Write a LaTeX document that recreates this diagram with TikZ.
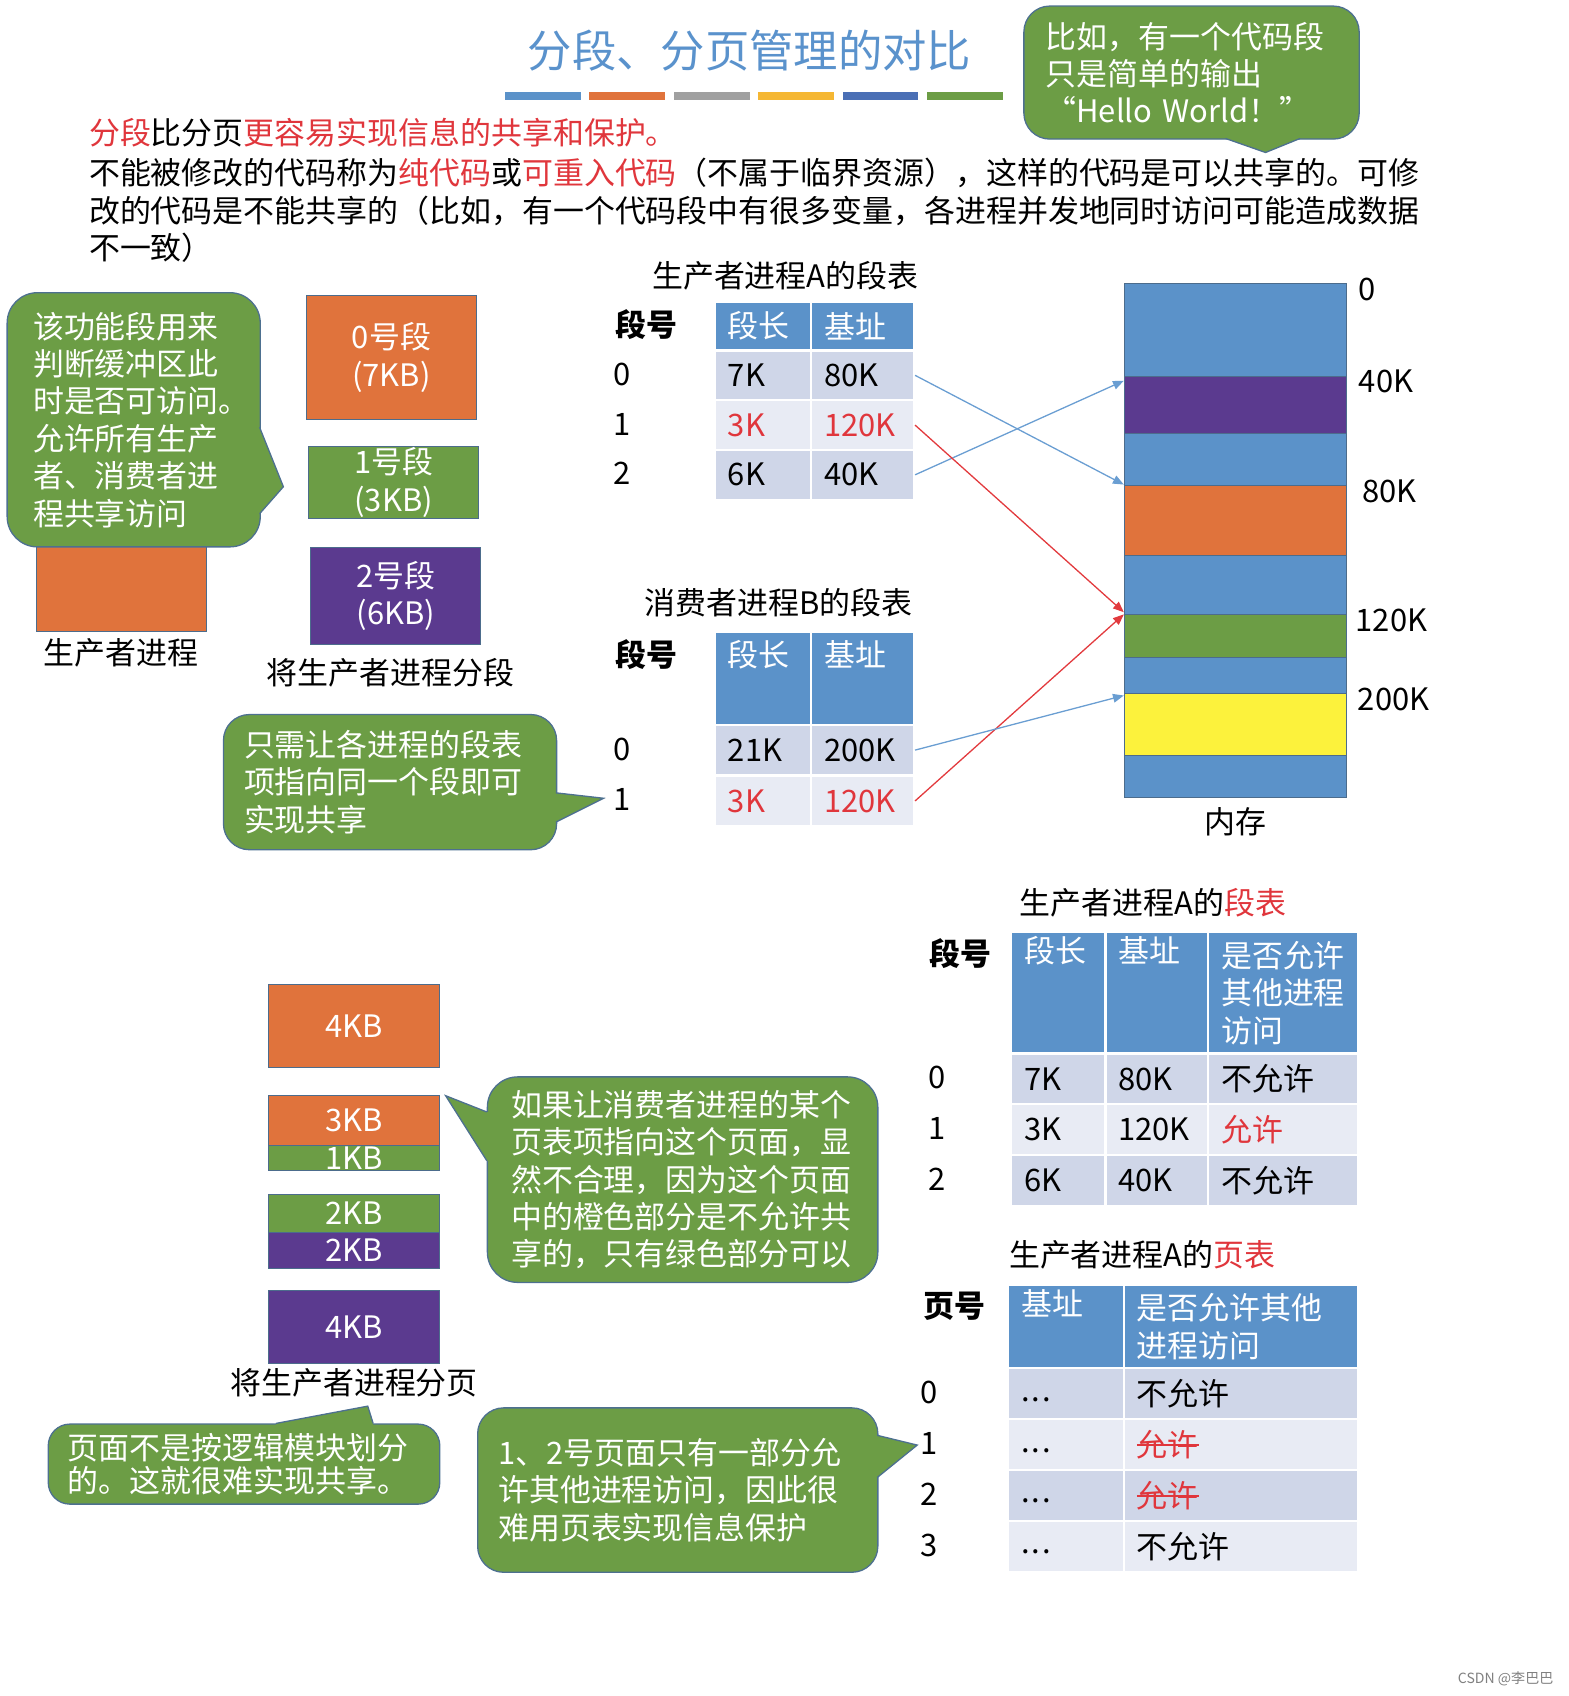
\documentclass[tikz,border=0pt]{standalone}
\usepackage{fontspec}
\setmainfont{Noto Sans CJK SC}
\usepackage{tikz}
\usetikzlibrary{arrows.meta,positioning}
\definecolor{clTitle}{HTML}{5A92CC}
\definecolor{clBlue}{HTML}{5B92C9}
\definecolor{clOrange}{HTML}{E0733C}
\definecolor{clGreen}{HTML}{6C9D45}
\definecolor{clPurple}{HTML}{5B3A8F}
\definecolor{clYellow}{HTML}{FCF23C}
\definecolor{clGray}{HTML}{A0A0A0}
\definecolor{clGold}{HTML}{F5B733}
\definecolor{clNavy}{HTML}{4A6FB5}
\definecolor{clRowD}{HTML}{CFD6E8}
\definecolor{clRowL}{HTML}{E8EBF4}
\definecolor{clRed}{HTML}{E0363C}
\definecolor{clEdge}{HTML}{4C6C8C}
\definecolor{clBubEdge}{HTML}{4D7090}
\definecolor{clLinkBlue}{HTML}{6A9ED2}
\definecolor{clLinkRed}{HTML}{E23A3E}
\newcommand{\mainsz}{\fontsize{14.3pt}{17.3pt}\selectfont}
\newcommand{\titlesz}{\fontsize{20.5pt}{24pt}\selectfont}
\newcommand{\strk}[1]{\rlap{\rule[0.32em]{2em}{0.9pt}}#1}
\tikzset{
  lbl/.style={font=\mainsz, inner sep=0pt},
  idx/.style={lbl},
  cell/.style={rectangle, draw=white, line width=1pt, anchor=north west,
               inner xsep=6pt, inner ysep=0pt, align=left, font=\mainsz},
  hdcell/.style={cell, fill=clBlue, text=white},
  cw/.style 2 args={minimum width=#1, text width=#2},
  blk/.style={rectangle, draw=clEdge, line width=0.4pt, anchor=north west,
              inner sep=0pt, minimum width=78.5pt, align=center,
              text=white, font=\mainsz},
  memblk/.style={rectangle, draw=clEdge, line width=0.4pt, anchor=north west,
                 inner sep=0pt, minimum width=102.5pt},
  memlbl/.style={lbl, anchor=west},
  bubble/.style={rectangle, rounded corners=12pt, draw=clBubEdge, line width=0.6pt,
                 fill=clGreen, text=white, anchor=north west, align=left,
                 inner ysep=0pt, font=\mainsz},
  beakline/.style={draw=clBubEdge, line width=0.6pt},
  link/.style={-{Triangle[length=5pt,width=4pt]}, line width=0.6pt, draw=clLinkBlue},
  redlink/.style={link, draw=clLinkRed},
}
\begin{document}
\begin{tikzpicture}[x=0.5pt, y=-0.5pt]
  \useasboundingbox (0,0) rectangle (1450,1568);

  % title and colour bar
  \node[font=\titlesz, text=clTitle] (title) at (693,47) {分段、分页管理的对比};
  \foreach \bc [count=\kk from 0] in {clBlue,clOrange,clGray,clGold,clNavy,clGreen}
    \fill[fill=\bc] (467+78*\kk,85) rectangle ++(70,7);

  % intro text
  \node[lbl, anchor=base west] (lead) at (82,134)
    {\textcolor{clRed}{分段}比分页\textcolor{clRed}{更容易实现信息的共享和保护。}};
  \node[lbl, anchor=base west, text width=650pt, align=left] (body) at (82,171)
    {不能被修改的代码称为\textcolor{clRed}{纯代码}或\textcolor{clRed}{可重入代码}（不属于临界资源），这样的代码是可以共享的。可修\\
     改的代码是不能共享的（比如，有一个代码段中有很多变量，各进程并发地同时访问可能造成数据\\
     不一致）};

  \node[bubble, minimum width=155pt, minimum height=61.5pt, inner xsep=10pt,
        text width=135pt] (bHello) at (946,5) {比如，有一个代码段\\只是简单的输出\\“Hello World！”};
  \fill[clGreen] (1133,122) -- (1133,128) -- (1170,141) -- (1202,128) -- (1202,122) -- cycle;
  \draw[beakline] (1133,128) -- (1170,141) -- (1202,128);

  % producer and its segments
  \node[blk, fill=clOrange, minimum height=76.5pt] (prod) at (33,430) {};
  \node[lbl, below=3pt of prod] (prodLbl) {生产者进程};
  \node[bubble, minimum width=117pt, minimum height=117.5pt, inner xsep=12pt,
        text width=93pt, rounded corners=14pt] (bFunc) at (6,270)
    {该功能段用来\\判断缓冲区此\\时是否可访问。\\允许所有生产\\者、消费者进\\程共享访问};
  \fill[clGreen] (234,395) -- (240,395) -- (262,450) -- (240,475) -- (234,475) -- cycle;
  \draw[beakline] (240,395) -- (262,450) -- (240,475);

  \node[blk, fill=clOrange, minimum height=57pt] (seg0) at (283,273) {0号段\\(7KB)};
  \node[blk, fill=clGreen, minimum height=33.5pt] (seg1) at (285,412) {1号段\\(3KB)};
  \node[blk, fill=clPurple, minimum height=44.5pt] (seg2) at (287,506) {2号段\\(6KB)};
  \node[lbl, below=6pt of seg2, xshift=-2.5pt] (segLbl) {将生产者进程分段};

  \node[bubble, minimum width=154pt, minimum height=62.5pt, inner xsep=9.5pt,
        text width=135pt] (bShare) at (206,660) {只需让各进程的段表\\项指向同一个段即可\\实现共享};
  \fill[clGreen] (508,733) -- (514,733) -- (558,738) -- (514,760) -- (508,760) -- cycle;
  \draw[beakline] (514,733) -- (558,738) -- (514,760);

  % segment table of A
  \node[lbl] (aTitle) at (726,255) {生产者进程A的段表};
  \node[lbl, font=\mainsz\bfseries] (aNo) at (598,300) {段号};
  \node[hdcell, cw={44.5pt}{32.5pt}, minimum height=22.5pt] (aHL) at (660,278) {段长};
  \node[hdcell, cw={47.5pt}{35.5pt}, minimum height=22.5pt] (aHB) at (749,278) {基址};
  \foreach \n/\y/\len/\base/\tc/\fc in {0/323/7K/80K/black/clRowD,
      1/369/3K/120K/clRed/clRowL, 2/415/6K/40K/black/clRowD} {
    \node[cell, cw={44.5pt}{32.5pt}, minimum height=23pt, fill=\fc, text=\tc] (aL\n) at (660,\y) {\len};
    \node[cell, cw={47.5pt}{35.5pt}, minimum height=23pt, fill=\fc, text=\tc] (aB\n) at (749,\y) {\base};
    \node[idx] (aN\n) at (575,\y+23) {\n};
  }

  % segment table of B
  \node[lbl] (bTitle) at (720,557) {消费者进程B的段表};
  \node[lbl, font=\mainsz\bfseries] (bNo) at (598,605) {段号};
  \node[hdcell, cw={44.5pt}{32.5pt}, minimum height=43pt] (bHL) at (660,583) {段长\\\strut};
  \node[hdcell, cw={47.5pt}{35.5pt}, minimum height=43pt] (bHB) at (749,583) {基址\\\strut};
  \foreach \n/\y/\len/\base/\tc/\fc in {0/669/21K/200K/black/clRowD,
      1/716/3K/120K/clRed/clRowL} {
    \node[cell, cw={44.5pt}{32.5pt}, minimum height=23.5pt, fill=\fc, text=\tc] (bL\n) at (660,\y) {\len};
    \node[cell, cw={47.5pt}{35.5pt}, minimum height=23.5pt, fill=\fc, text=\tc] (bB\n) at (749,\y) {\base};
    \node[idx] (bN\n) at (575,\y+23.5) {\n};
  }

  % memory
  \foreach \nm/\yt/\hh/\fc in {mA/262/43pt/clBlue, mB/348/26pt/clPurple,
      mC/400/24pt/clBlue, mD/448/32.5pt/clOrange, mE/513/27.5pt/clBlue,
      mF/568/19.5pt/clGreen, mG/607/17pt/clBlue, mH/641/28.5pt/clYellow,
      mI/698/19.5pt/clBlue}
    \node[memblk, fill=\fc, minimum height=\hh] (\nm) at (1039,\yt) {};
  \node[memlbl] (l0) at (1256,268) {0};
  \node[memlbl] (l40) at (1256,353) {40K};
  \node[memlbl] (l80) at (1259,454) {80K};
  \node[memlbl] (l120) at (1253,574) {120K};
  \node[memlbl] (l200) at (1255,647) {200K};
  \node[lbl, below=4pt of mI] (memLbl) {内存};

  \draw[link] (aB0.east) -- (mD.north west);
  \draw[link] (aB2.east) -- ([yshift=-2pt]mB.north west);
  \draw[redlink] (aB1.east) -- ([yshift=1pt]mF.north west);
  \draw[redlink] (bB1.east) -- (mF.north west);
  \draw[link] (bB0.east) -- ([yshift=-1pt]mH.north west);

  % paging of the producer
  \node[blk, fill=clOrange, minimum width=79pt, minimum height=38pt] (pg0) at (248,910) {4KB};
  \node[blk, fill=clOrange, minimum width=79pt, minimum height=23.5pt] (pg1a) at (248,1012) {3KB};
  \node[blk, fill=clGreen, minimum width=79pt, minimum height=11.5pt] (pg1b) at (248,1059) {1KB};
  \node[blk, fill=clGreen, minimum width=79pt, minimum height=17.5pt] (pg2a) at (248,1104) {2KB};
  \node[blk, fill=clPurple, minimum width=79pt, minimum height=16.5pt] (pg2b) at (248,1139) {2KB};
  \node[blk, fill=clPurple, minimum width=79pt, minimum height=33.5pt] (pg3) at (248,1193) {4KB};
  \node[lbl, below=2pt of pg3] (pgLbl) {将生产者进程分页};

  \node[bubble, minimum width=180.5pt, minimum height=95pt, inner xsep=11pt,
        text width=158.5pt, rounded corners=14pt] (bMix) at (450,995)
    {如果让消费者进程的某个\\页表项指向这个页面，显\\然不合理，因为这个页面\\中的橙色部分是不允许共\\享的，只有绿色部分可以};
  \fill[clGreen] (456,1028) -- (450,1028) -- (412,1013) -- (450,1073) -- (456,1073) -- cycle;
  \draw[beakline] (450,1028) -- (412,1013) -- (450,1073);

  \node[bubble, minimum width=181pt, minimum height=37pt, inner xsep=9pt,
        text width=163pt, rounded corners=10pt, font=\fontsize{14.3pt}{15.5pt}\selectfont] (bHard) at (44,1316)
    {页面不是按逻辑模块划分\\的。这就很难实现共享。};
  \fill[clGreen] (255,1322) -- (255,1316) -- (340,1300) -- (345,1316) -- (345,1322) -- cycle;
  \draw[beakline] (255,1316) -- (340,1300) -- (345,1316);

  \node[bubble, minimum width=185pt, minimum height=76pt, inner xsep=9.5pt,
        text width=166pt] (bProt) at (441,1301)
    {1、2号页面只有一部分允\\许其他进程访问，因此很\\难用页表实现信息保护};
  \fill[clGreen] (805,1327) -- (811,1327) -- (848,1336) -- (811,1366) -- (805,1366) -- cycle;
  \draw[beakline] (811,1327) -- (848,1336) -- (811,1366);

  % segment table of A with access bit
  \node[lbl] (cTitle) at (1066,835) {生产者进程A的\textcolor{clRed}{段表}};
  \node[lbl, font=\mainsz\bfseries] (cNo) at (888,882) {段号};
  \node[hdcell, cw={43.5pt}{31.5pt}, minimum height=56pt] (cH1) at (934,861) {段长\\\strut\\\strut};
  \node[hdcell, cw={47.5pt}{35.5pt}, minimum height=56pt] (cH2) at (1021,861) {基址\\\strut\\\strut};
  \node[hdcell, cw={69.5pt}{57.5pt}, minimum height=56pt] (cH3) at (1116,861) {是否允许\\其他进程\\访问};
  \foreach \n/\y/\len/\base/\perm/\pc/\fc in {0/973/7K/80K/不允许/black/clRowD,
      1/1020/3K/120K/允许/clRed/clRowL, 2/1067/6K/40K/不允许/black/clRowD} {
    \node[cell, cw={43.5pt}{31.5pt}, minimum height=23.5pt, fill=\fc] (cL\n) at (934,\y) {\len};
    \node[cell, cw={47.5pt}{35.5pt}, minimum height=23.5pt, fill=\fc] (cB\n) at (1021,\y) {\base};
    \node[cell, cw={69.5pt}{57.5pt}, minimum height=23.5pt, fill=\fc, text=\pc] (cP\n) at (1116,\y) {\perm};
    \node[idx] (cN\n) at (866,\y+23.5) {\n};
  }

  % page table of A
  \node[lbl] (dTitle) at (1056,1160) {生产者进程A的\textcolor{clRed}{页表}};
  \node[lbl, font=\mainsz\bfseries] (dNo) at (882,1208) {页号};
  \node[hdcell, cw={53.5pt}{41.5pt}, minimum height=38.5pt] (dH1) at (931,1187) {基址\\\strut};
  \node[hdcell, cw={108.5pt}{96.5pt}, minimum height=38.5pt] (dH2) at (1038,1187) {是否允许其他\\进程访问};
  \foreach \n/\y/\perm/\pc/\fc in {0/1264/不允许/black/clRowD,
      1/1311/\strk{允许}/clRed/clRowL, 2/1358/\strk{允许}/clRed/clRowD,
      3/1405/不允许/black/clRowL} {
    \node[cell, cw={53.5pt}{41.5pt}, minimum height=23.5pt, fill=\fc] (dB\n) at (931,\y) {\strut.\kern1pt.\kern1pt.};
    \node[cell, cw={108.5pt}{96.5pt}, minimum height=23.5pt, fill=\fc, text=\pc] (dP\n) at (1038,\y) {\perm};
    \node[idx] (dN\n) at (859,\y+23.5) {\n};
  }

  \node[font=\fontsize{6.5pt}{8pt}\selectfont, text=black!50, inner sep=0pt] (csdn) at (1392,1552) {CSDN @李巴巴};
\end{tikzpicture}
\end{document}
